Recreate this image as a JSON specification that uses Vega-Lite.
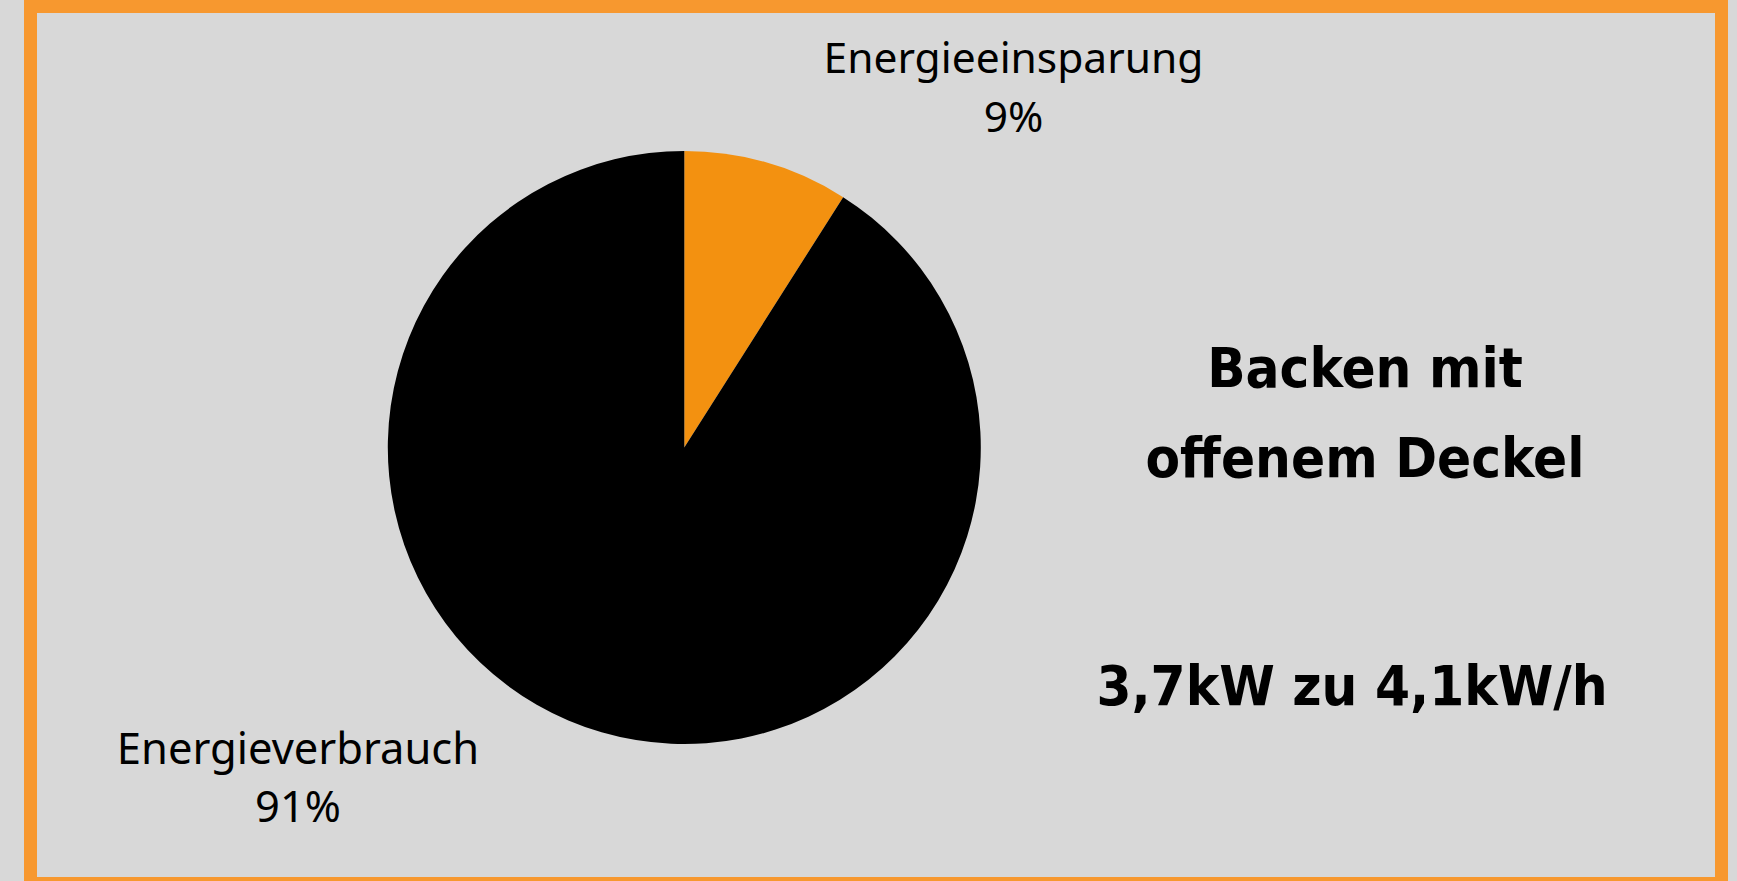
{
  "$schema": "https://vega.github.io/schema/vega-lite/v6.json",
  "width": 1691,
  "height": 877,
  "autosize": {"type": "none"},
  "padding": {"left": 30.5, "top": 6.5, "right": 15.5, "bottom": 0},
  "background": "#d8d8d8",
  "view": {"stroke": "#f7982f", "strokeWidth": 13, "fill": "#d8d8d8"},
  "data": {"values": [
    {"kategorie": "Energieeinsparung", "anteil": 9},
    {"kategorie": "Energieverbrauch", "anteil": 91}
  ]},
  "layer": [
    {
      "mark": {"type": "arc", "outerRadius": 296.5, "x": {"expr": "width/2 - 191.7"}, "y": {"expr": "height/2 + 2.5"}},
      "encoding": {
        "theta": {"field": "anteil", "type": "quantitative", "stack": true},
        "order": {"field": "anteil", "type": "quantitative", "sort": "ascending"},
        "color": {"field": "kategorie", "type": "nominal", "legend": null,
          "scale": {"domain": ["Energieeinsparung", "Energieverbrauch"], "range": ["#f39110", "#000000"]}}
      }
    },
    {
      "transform": [
        {"filter": "datum.kategorie == 'Energieeinsparung'"},
        {"calculate": "[datum.kategorie, datum.anteil + '%']", "as": "label"}
      ],
      "mark": {"type": "text", "x": 983, "y": 66.5, "align": "center", "baseline": "alphabetic", "font": "Noto Sans", "fontSize": 42.5, "lineHeight": 59, "color": "#000000"},
      "encoding": {"text": {"field": "label"}}
    },
    {
      "transform": [
        {"filter": "datum.kategorie == 'Energieverbrauch'"},
        {"calculate": "[datum.kategorie, datum.anteil + '%']", "as": "label"}
      ],
      "mark": {"type": "text", "x": 267.5, "y": 757.5, "align": "center", "baseline": "alphabetic", "font": "Noto Sans", "fontSize": 43.5, "lineHeight": 58, "color": "#000000"},
      "encoding": {"text": {"field": "label"}}
    },
    {
      "data": {"values": [{"zeile": "Backen mit"}]},
      "mark": {"type": "text", "text": ["Backen mit", "offenem Deckel"], "x": 1334.5, "y": 380.2, "align": "center", "baseline": "alphabetic", "font": "DejaVu Sans Condensed, Roboto Condensed, Roboto, sans-serif", "fontWeight": "bold", "fontSize": 56, "lineHeight": 90, "color": "#000000"},
      "encoding": {}
    },
    {
      "data": {"values": [{"zeile": "3,7kW zu 4,1kW/h"}]},
      "mark": {"type": "text", "text": "3,7kW zu 4,1kW/h", "x": 1321.5, "y": 698.5, "align": "center", "baseline": "alphabetic", "font": "DejaVu Sans Condensed, Roboto Condensed, Roboto, sans-serif", "fontWeight": "bold", "fontSize": 56, "color": "#000000"},
      "encoding": {}
    }
  ]
}
